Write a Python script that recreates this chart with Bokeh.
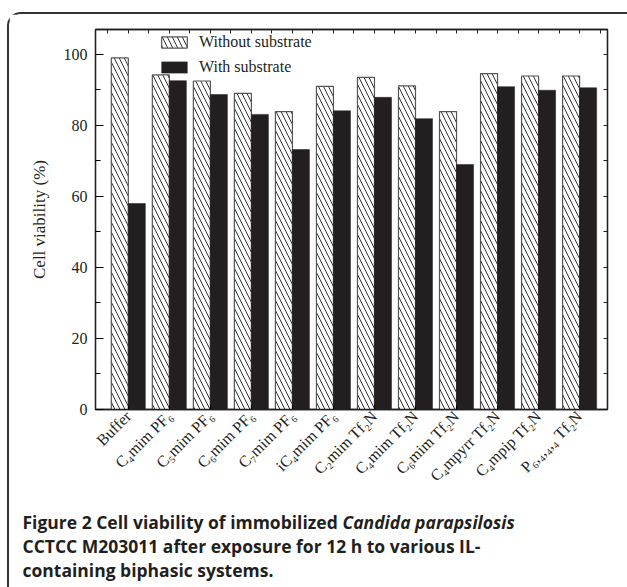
import numpy as np
from bokeh.plotting import figure
from bokeh.layouts import column
from bokeh.models import (ColumnDataSource, Range1d, LinearAxis, FixedTicker,
                          Legend, LegendItem)
from bokeh.core.properties import value
from bokeh.transform import dodge
from bokeh.embed import file_html
from bokeh.resources import INLINE

# ---- data ----
categories = ["Buffer", "C\u2084mim PF\u2086", "C\u2085mim PF\u2086", "C\u2086mim PF\u2086",
              "C\u2087mim PF\u2086", "iC\u2084mim PF\u2086", "C\u2082mim Tf\u2082N",
              "C\u2084mim Tf\u2082N", "C\u2086mim Tf\u2082N", "C\u2084mpyrr Tf\u2082N",
              "C\u2084mpip Tf\u2082N", "P\u2086,\u2084,\u2084,\u2084 Tf\u2082N"]
without_substrate = [99.0, 94.2, 92.5, 89.0, 83.9, 91.0, 93.5, 91.1, 83.9, 94.6, 93.9, 93.9]
with_substrate = [58.0, 92.6, 88.7, 83.1, 73.2, 84.1, 87.9, 81.9, 69.0, 90.9, 89.9, 90.6]
y_ticks = [0, 20, 40, 60, 80, 100]
series_names = ["Without substrate", "With substrate"]
y_label = "Cell viability (%)"
caption_bold = ["Figure 2 Cell viability of immobilized",
                "CCTCC M203011 after exposure for 12 h to various IL-",
                "containing biphasic systems."]
caption_italic = "Candida parapsilosis"

INK = "#231f20"
SERIF = "Liberation Serif"
SANS = "Open Sans"

n = len(categories)
idx = list(range(n))
src = ColumnDataSource(dict(x=idx, wo=without_substrate, w=with_substrate))

p = figure(width=618, height=491, output_backend="svg", toolbar_location=None,
           x_range=Range1d(-0.8, 11.68), y_range=Range1d(0, 107),
           min_border_left=86, min_border_right=20, min_border_top=15,
           min_border_bottom=96, frame_align=False)
p.grid.visible = False
p.outline_line_color = INK
p.outline_line_width = 1.3

bw = 0.415
r1 = p.vbar(x=dodge("x", -bw / 2, range=p.x_range), top="wo", width=bw, source=src,
            fill_color="white", line_color="#555555", line_width=1.2,
            hatch_pattern="\\", hatch_scale=10, hatch_weight=1, hatch_color="#333333")
r2 = p.vbar(x=dodge("x", bw / 2, range=p.x_range), top="w", width=bw, source=src,
            fill_color=INK, line_color=INK, line_width=0.5)

# axes
xa = p.xaxis[0]
xa.ticker = FixedTicker(ticks=idx)
xa.major_label_overrides = {i: c for i, c in enumerate(categories)}
xa.major_label_orientation = np.pi / 4
xa.major_label_text_font = SERIF
xa.major_label_text_font_size = "16px"
xa.major_label_text_color = INK
xa.major_label_standoff = 4
xa.major_tick_in = 4
xa.major_tick_out = 0
xa.minor_tick_line_color = None
xa.axis_line_color = INK
xa.axis_line_width = 1.3

ya = p.yaxis[0]
ya.ticker = FixedTicker(ticks=y_ticks, minor_ticks=list(range(10, 110, 20)))
ya.major_label_text_font = SERIF
ya.major_label_text_font_size = "16px"
ya.major_label_text_color = INK
ya.major_label_standoff = 8
ya.major_tick_in = 8
ya.major_tick_out = 0
ya.minor_tick_in = 5
ya.minor_tick_out = 0
ya.axis_line_color = INK
ya.axis_line_width = 1.3
ya.axis_label = y_label
ya.axis_label_text_font = SERIF
ya.axis_label_text_font_size = "17px"
ya.axis_label_text_font_style = "normal"
ya.axis_label_text_color = INK
ya.axis_label_standoff = 12

top = LinearAxis(ticker=FixedTicker(ticks=[], minor_ticks=list(np.arange(-0.5, n, 0.5))),
                 minor_tick_in=4, minor_tick_out=0, major_tick_line_color=None,
                 minor_tick_line_color=INK, axis_line_color=INK, axis_line_width=1.3,
                 major_label_standoff=0)
p.add_layout(top, "above")
right = LinearAxis(ticker=FixedTicker(ticks=[], minor_ticks=list(range(0, 110, 10))),
                   minor_tick_in=4, minor_tick_out=0, major_tick_line_color=None,
                   minor_tick_line_color=INK, axis_line_color=INK, axis_line_width=1.3,
                   major_label_standoff=0)
p.add_layout(right, "right")

legend = Legend(items=[LegendItem(label=series_names[0], renderers=[r1]),
                       LegendItem(label=series_names[1], renderers=[r2])],
                location=(63, 333), border_line_color=None, background_fill_alpha=0,
                padding=0, margin=0, spacing=7, glyph_width=32, glyph_height=14,
                label_height=14, label_standoff=9, label_text_font=SERIF,
                label_text_font_size="16px", label_text_color=INK)
p.add_layout(legend, "center")

# caption panel
cap = figure(width=618, height=82, output_backend="svg", toolbar_location=None,
             x_range=Range1d(0, 618), y_range=Range1d(82, 0),
             min_border=0, outline_line_color=None, frame_align=False)
cap.axis.visible = False
cap.grid.visible = False
cap.text(x=[13, 13, 13], y=[16, 40, 64], text=caption_bold, text_font=value(SANS),
         text_font_style="bold", text_font_size="17.5px", text_color=INK,
         text_baseline="middle", text_align="left")
cap.text(x=[333], y=[16], text=[caption_italic], text_font=value(SANS),
         text_font_style="bold italic", text_font_size="17.5px", text_color=INK,
         text_baseline="middle", text_align="left")

layout = column(p, cap, spacing=0,
                styles={"margin-left": "7px", "margin-top": "12px",
                        "border-left": "2px solid #333333",
                        "border-top": "2px solid #333333",
                        "border-top-left-radius": "14px"})

open("out.html", "w").write(file_html(layout, INLINE))
